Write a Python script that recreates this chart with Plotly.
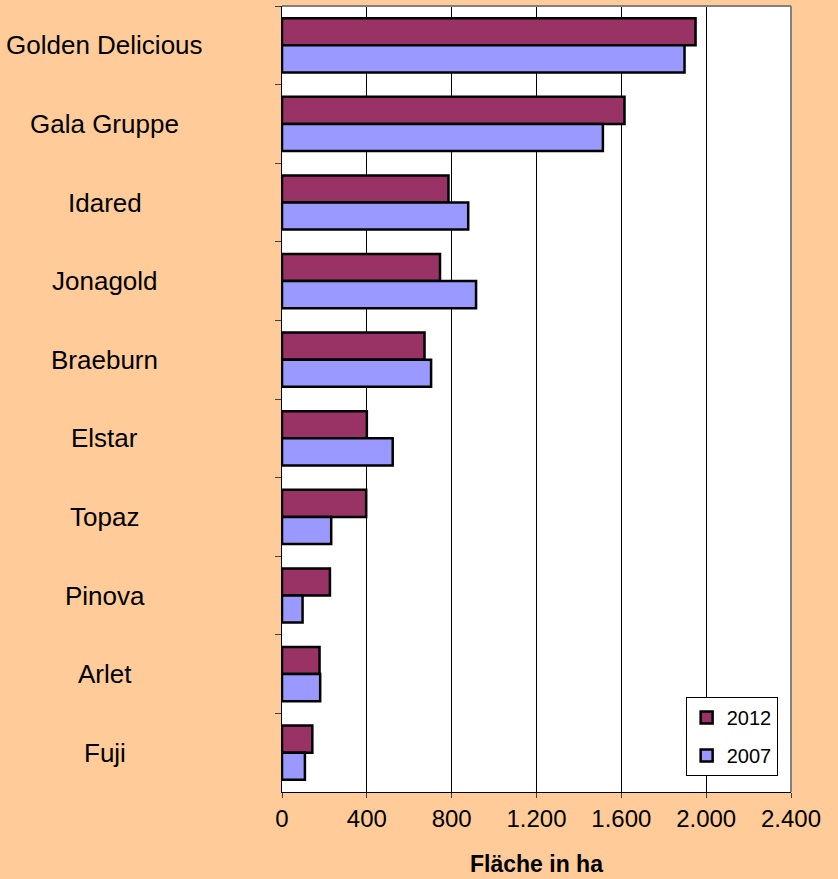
import plotly.graph_objects as go

# Apfelsorten und Anbauflächen (ha)
sorten = ["Golden Delicious", "Gala Gruppe", "Idared", "Jonagold", "Braeburn",
          "Elstar", "Topaz", "Pinova", "Arlet", "Fuji"]
flaeche_2012 = [1950, 1615, 785, 745, 672, 400, 397, 226, 177, 143]
flaeche_2007 = [1898, 1513, 878, 915, 703, 522, 232, 97, 180, 108]
x_ticks = [0, 400, 800, 1200, 1600, 2000, 2400]

FONT = "Arial, 'Liberation Sans', sans-serif"

fig = go.Figure()
fig.add_trace(go.Bar(
    y=sorten, x=flaeche_2012, name="2012", orientation="h",
    marker=dict(color="#993366", line=dict(color="#000000", width=2.5)),
    legendgroup="a",
))
fig.add_trace(go.Bar(
    y=sorten, x=flaeche_2007, name="2007", orientation="h",
    marker=dict(color="#9999FF", line=dict(color="#000000", width=2.5)),
    legendgroup="b",
))

# centred category labels left of the plot area
for s in sorten:
    fig.add_annotation(
        x=-0.348, xref="paper", y=s, yref="y", text=s, showarrow=False,
        xanchor="center", yanchor="middle",
        font=dict(family=FONT, size=26, color="#000000"),
    )

# grey frame on top and right
fig.add_shape(type="line", xref="paper", yref="paper", x0=0, x1=1, y0=1, y1=1,
              line=dict(color="#808080", width=2))
fig.add_shape(type="line", xref="paper", yref="paper", x0=1, x1=1, y0=0, y1=1,
              line=dict(color="#808080", width=2))

fig.update_layout(
    width=838, height=879,
    margin=dict(l=282, r=47, t=6, b=87),
    paper_bgcolor="#FFCC99", plot_bgcolor="#FFFFFF",
    barmode="group", bargap=0.31, bargroupgap=0,
    separators=",.",
    font=dict(family=FONT, color="#000000"),
    showlegend=True,
    legend=dict(
        x=0.793, y=0.121, xanchor="left", yanchor="top",
        bgcolor="#FFFFFF", bordercolor="#000000", borderwidth=1,
        font=dict(family=FONT, size=20, color="#000000"),
        tracegroupgap=9, traceorder="grouped",
    ),
    xaxis=dict(
        range=[0, 2400], tickvals=x_ticks, tickformat=",d",
        showgrid=True, gridcolor="#000000", gridwidth=1,
        showline=True, linecolor="#000000", linewidth=1,
        ticks="outside", ticklen=5, tickcolor="#404040",
        tickfont=dict(family=FONT, size=24, color="#000000"),
        title=dict(text="<b>Fläche in ha</b>", standoff=25,
                   font=dict(family=FONT, size=23, color="#000000")),
        zeroline=False,
    ),
    yaxis=dict(
        autorange="reversed", type="category",
        showticklabels=False, showgrid=False,
        showline=True, linecolor="#000000", linewidth=1,
        ticks="outside", ticklen=6, tickcolor="#404040", tickson="boundaries",
    ),
)

fig.write_html("out.html")
